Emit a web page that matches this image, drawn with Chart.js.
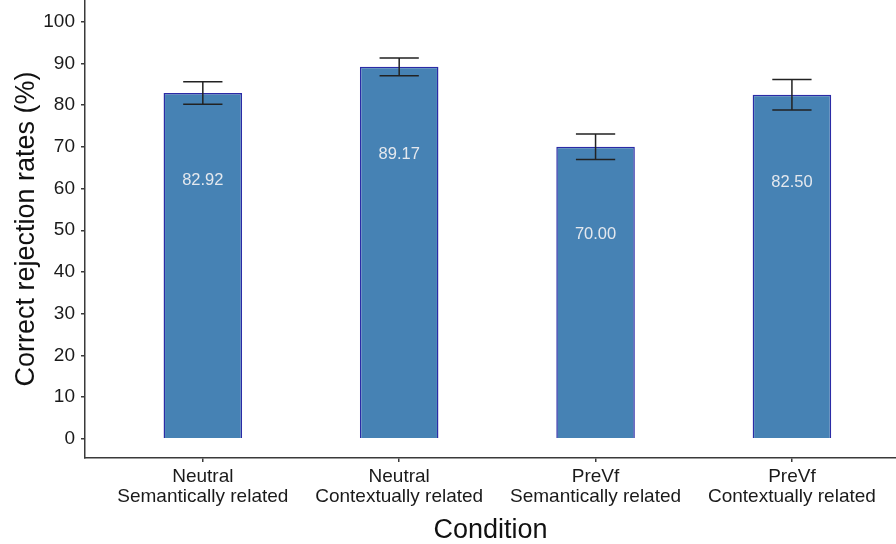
<!DOCTYPE html>
<html>
<head>
<meta charset="utf-8">
<script src="https://cdn.jsdelivr.net/npm/chart.js@4/dist/chart.umd.min.js"></script>
<style>
  html, body { margin: 0; padding: 0; background: #fff; overflow: hidden; }
  #wrap { width: 896px; height: 544px; position: relative; }
</style>
</head>
<body>
<div id="wrap"><canvas id="chartCanvas"></canvas></div>
<script>
// conditions (two-line tick labels)
const conditions = [
  ["Neutral", "Semantically related"],
  ["Neutral", "Contextually related"],
  ["PreVf", "Semantically related"],
  ["PreVf", "Contextually related"]
];
const positions = [0, 1, 2, 3];
const rates = [82.92, 89.17, 70.00, 82.50];
const errors = [2.7, 2.15, 3.05, 3.65];
const yTicks = [0, 10, 20, 30, 40, 50, 60, 70, 80, 90, 100];

const fontFamily = '"Liberation Sans", Arial, sans-serif';
const canvas = document.getElementById("chartCanvas");

// error bars + value labels drawn on top of the bars
const errorBarPlugin = {
  id: "errorBars",
  afterDatasetsDraw(chart) {
    const ctx = chart.ctx;
    const x = chart.scales.x;
    const y = chart.scales.y;
    const meta = chart.getDatasetMeta(0);
    ctx.save();
    rates.forEach((v, i) => {
      const px = x.getPixelForValue(positions[i]);
      const half = meta.data[i].width / 4;
      const top = y.getPixelForValue(v + errors[i]);
      const bot = y.getPixelForValue(v - errors[i]);
      ctx.strokeStyle = "#222";
      ctx.lineWidth = 1.5;
      ctx.beginPath();
      ctx.moveTo(px, top); ctx.lineTo(px, bot);
      ctx.moveTo(px - half, top); ctx.lineTo(px + half, top);
      ctx.moveTo(px - half, bot); ctx.lineTo(px + half, bot);
      ctx.stroke();

      ctx.fillStyle = "#e4e8ee";
      ctx.font = "16.5px " + fontFamily;
      ctx.textAlign = "center";
      ctx.textBaseline = "middle";
      ctx.fillText(v.toFixed(2), px, y.getPixelForValue(v - 21));
    });
    ctx.restore();
  }
};

new Chart(canvas, {
  type: "bar",
  data: {
    datasets: [
      {
        data: rates.map((v, i) => ({ x: positions[i], y: v })),
        backgroundColor: "#4682B4",
        borderColor: "#2b2ba6",
        borderWidth: 1.5,
        barPercentage: 0.4,
        categoryPercentage: 1
      }
    ]
  },
  options: {
    responsive: true,
    maintainAspectRatio: false,
    animation: false,
    devicePixelRatio: 1,
    layout: { padding: 0 },
    plugins: {
      legend: { display: false },
      tooltip: { enabled: false }
    },
    scales: {
      x: {
        type: "linear",
        min: -0.6,
        max: 3.53,
        offset: false,
        afterBuildTicks: (s) => { s.ticks = positions.map(v => ({ value: v })); },
        afterFit: (s) => { s.height = 86; s.paddingLeft = 0; s.paddingRight = 0; },
        border: { display: true, color: "#3a3a3a", width: 1.5 },
        grid: { display: true, offset: false, drawOnChartArea: false, drawTicks: true, tickLength: 4, color: "#3a3a3a", lineWidth: 1.5 },
        ticks: {
          autoSkip: false,
          maxRotation: 0,
          padding: 5,
          color: "#1a1a1a",
          font: { family: fontFamily, size: 19, lineHeight: 1.05 },
          callback: (v, i) => conditions[i]
        },
        title: {
          display: true,
          text: "Condition",
          color: "#111",
          font: { family: fontFamily, size: 27, lineHeight: 1 },
          padding: { top: 0, bottom: 0 }
        }
      },
      y: {
        min: -4.6,
        max: 105.2,
        afterBuildTicks: (s) => { s.ticks = yTicks.map(v => ({ value: v })); },
        afterFit: (s) => { s.width = 85; s.paddingTop = 0; s.paddingBottom = 0; },
        border: { display: true, color: "#3a3a3a", width: 1.5 },
        grid: { display: true, drawOnChartArea: false, drawTicks: true, tickLength: 4, color: "#3a3a3a", lineWidth: 1.5 },
        ticks: {
          padding: 6,
          color: "#1a1a1a",
          font: { family: fontFamily, size: 19 }
        },
        title: {
          display: true,
          text: "Correct rejection rates (%)",
          color: "#111",
          font: { family: fontFamily, size: 27, lineHeight: 1 },
          padding: { top: 13, bottom: 0 }
        }
      }
    }
  },
  plugins: [errorBarPlugin]
});
</script>
</body>
</html>
